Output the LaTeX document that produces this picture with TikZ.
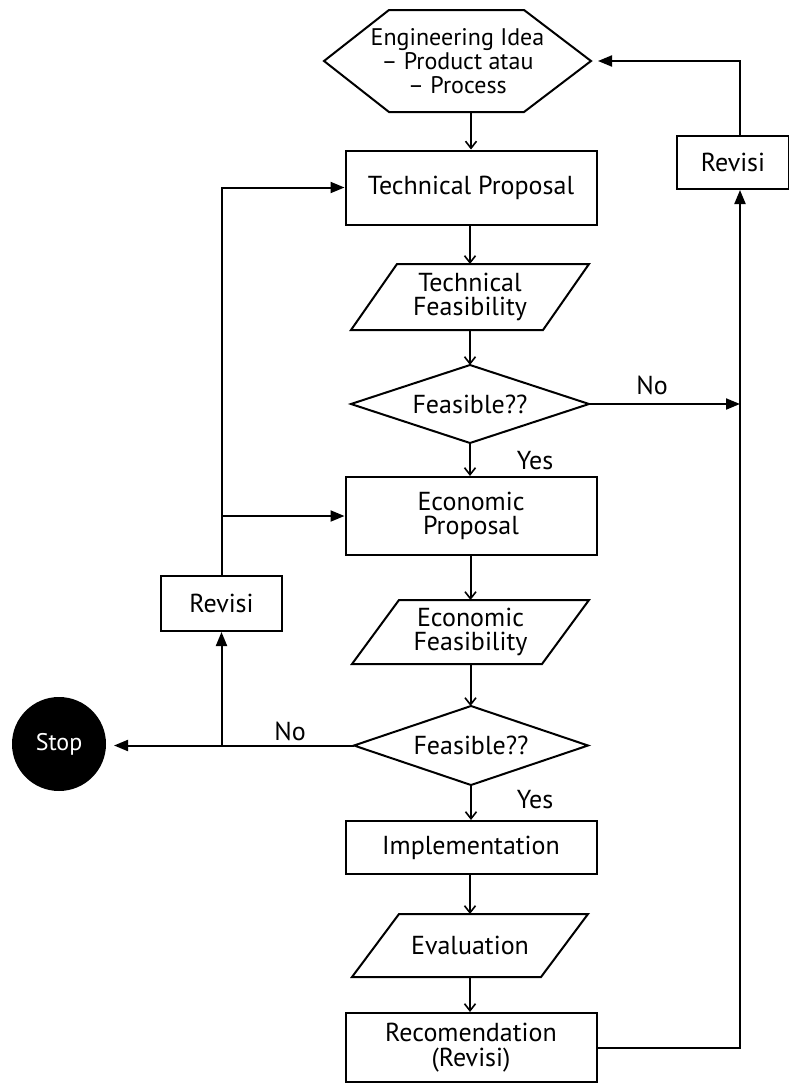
\documentclass[tikz,border=0pt]{standalone}
\usepackage{fontspec}
\setmainfont{PT Sans}
\usetikzlibrary{arrows.meta,calc}
\begin{document}
\begin{tikzpicture}[x=1pt,y=-1pt, line width=2pt,
  font=\fontsize{26}{24.5}\selectfont,
  stepbox/.style={draw, minimum width=251, align=center, inner sep=0pt},
  plain/.style={align=center, inner sep=0pt},
  flow/.style={-{Straight Barb[length=7pt,width=11pt,line width=1.6pt]}},
  side/.style={-{Triangle[length=14pt,width=11pt]}},
  lbl/.style={inner sep=1pt}]
\useasboundingbox (0,0) rectangle (789,1084);
% nodes
\node[plain, minimum width=265, minimum height=100, font=\fontsize{24}{24}\selectfont] (idea) at (457.5,61) {Engineering Idea\\-- Product atau\\-- Process};
\draw (idea.west) -- ($(idea.north west)+(65,0)$) -- ($(idea.north east)+(-67,0)$) -- (idea.east)
  -- ($(idea.south east)+(-67,0)$) -- ($(idea.south west)+(65,0)$) -- cycle;
\node[stepbox, minimum height=74] (tp) at (471,187.5) {Technical Proposal};
\node[plain, minimum width=190, minimum height=64] (tf) at (470,297) {Technical\\Feasibility};
\draw ($(tf.north west)+(23,0)$) -- ($(tf.north east)+(23,0)$) -- ($(tf.south east)+(-23,0)$) -- ($(tf.south west)+(-23,0)$) -- cycle;
\node[plain, minimum width=236, minimum height=76] (d1) at (470,404) {Feasible??};
\draw (d1.west) -- (d1.north) -- (d1.east) -- (d1.south) -- cycle;
\node[stepbox, minimum height=78] (ep) at (471,516) {Economic\\Proposal};
\node[plain, minimum width=188, minimum height=62] (ef) at (470.5,632) {Economic\\Feasibility};
\draw ($(ef.north west)+(23.5,0)$) -- ($(ef.north east)+(23.5,0)$) -- ($(ef.south east)+(-23.5,0)$) -- ($(ef.south west)+(-23.5,0)$) -- cycle;
\node[plain, minimum width=232, minimum height=77] (d2) at (471,745.5) {Feasible??};
\draw (d2.west) -- (d2.north) -- (d2.east) -- (d2.south) -- cycle;
\node[stepbox, minimum height=53] (impl) at (471,847.5) {Implementation};
\node[plain, minimum width=187, minimum height=61] (ev) at (470,945.5) {Evaluation};
\draw ($(ev.north west)+(23.5,0)$) -- ($(ev.north east)+(23.5,0)$) -- ($(ev.south east)+(-23.5,0)$) -- ($(ev.south west)+(-23.5,0)$) -- cycle;
\node[stepbox, minimum height=69] (rec) at (471,1047.5) {Recomendation\\(Revisi)};
\node[stepbox, minimum width=121, minimum height=55] (rv1) at (221.5,603.5) {Revisi};
\node[stepbox, minimum width=112, minimum height=53] (rv2) at (733,162.5) {Revisi};
\node[circle, fill=black, text=white, minimum size=94, inner sep=0pt, font=\fontsize{24}{24}\selectfont] (stop) at (59,744) {Stop};
\coordinate (rx) at (740,61);
% labels
\node[lbl] (no1) at (652,385) {No};
\node[lbl] (yes1) at (535,461) {Yes};
\node[lbl] (no2) at (290,731) {No};
\node[lbl] (yes2) at (535,800) {Yes};
% main flow
\draw[flow] (tp.north |- idea.south) -- (tp.north);
\draw[flow] (tp.south -| tf.north) -- (tf.north);
\draw[flow] (tf.south) -- (d1.north);
\draw[flow] (d1.south) -- (d1.south |- ep.north);
\draw[flow] (ep.south -| ef.north) -- (ef.north);
\draw[flow] (ef.south) -- (ef.south |- d2.north);
\draw[flow] (d2.south) -- (d2.south |- impl.north);
\draw[flow] (impl.south -| ev.north) -- (ev.north);
\draw[flow] (ev.south) -- (ev.south |- rec.north);
% right loop
\draw[side] (d1.east) -- (rx |- d1.east);
\draw[side] (rec.east) -| (rx |- rv2.south);
\draw[side, shorten >=7pt] (rx |- rv2.north) -- (rx) -- (idea.east);
% left loop
\draw[side, shorten >=7pt] (d2.west) -- (d2.west -| stop.east);
\draw[side] (rv1.south |- d2.west) -- (rv1.south);
\draw[side] (rv1.north) |- (tp.west);
\draw[side] (rv1.north |- ep.west) -- (ep.west);
\end{tikzpicture}
\end{document}
